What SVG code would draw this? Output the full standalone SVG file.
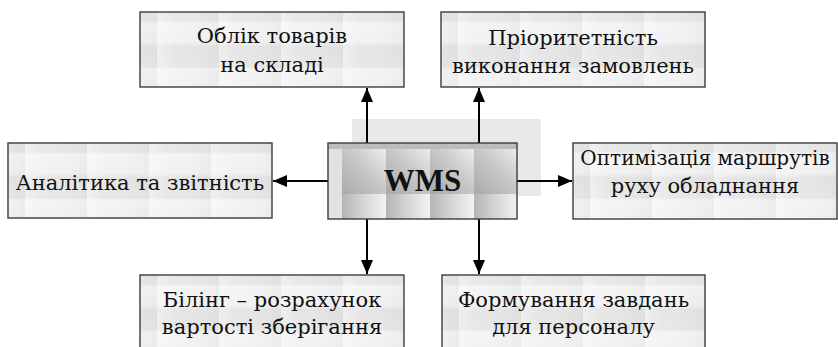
<svg xmlns="http://www.w3.org/2000/svg" width="838" height="347" viewBox="0 0 838 347">
  <style>
    .box { stroke: #3c3c3c; stroke-width: 1.4; fill: url(#tile); }
    .lbl { font-family: "DejaVu Serif", "Liberation Serif", serif; font-size: 21px; fill: #111; text-anchor: middle; }
    .hub { font-family: "Liberation Serif", "DejaVu Serif", serif; font-size: 31px; font-weight: bold; fill: #111; text-anchor: middle; }
    .link { stroke: #000; stroke-width: 2; fill: none; marker-end: url(#head); }
  </style>
  <defs>
    <!-- pale textured fill for the function boxes -->
    <linearGradient id="tileShade" x1="0" y1="0" x2="0" y2="1">
      <stop offset="0" stop-color="#e5e5e5"/>
      <stop offset="0.45" stop-color="#e8e8e8"/>
      <stop offset="0.5" stop-color="#f4f4f4"/>
      <stop offset="0.9" stop-color="#f2f2f2"/>
      <stop offset="1" stop-color="#e9e9e9"/>
    </linearGradient>
    <linearGradient id="tileSide" x1="0" y1="0" x2="1" y2="0">
      <stop offset="0" stop-color="#ffffff" stop-opacity="0.35"/>
      <stop offset="0.3" stop-color="#ffffff" stop-opacity="0"/>
      <stop offset="1" stop-color="#000000" stop-opacity="0.03"/>
    </linearGradient>
    <pattern id="tile" patternUnits="userSpaceOnUse" x="-45" y="-12" width="62" height="46">
      <rect width="62" height="46" fill="url(#tileShade)"/>
      <rect width="62" height="46" fill="url(#tileSide)"/>
    </pattern>
    <!-- darker metallic tiles for the central block -->
    <linearGradient id="metal" x1="0" y1="1" x2="1" y2="0">
      <stop offset="0" stop-color="#a9a9a9"/>
      <stop offset="0.55" stop-color="#c8c8c8"/>
      <stop offset="1" stop-color="#ececec"/>
    </linearGradient>
    <pattern id="metalTile" patternUnits="userSpaceOnUse" x="14" y="6" width="44" height="45">
      <rect width="44" height="45" fill="url(#metal)"/>
    </pattern>
    <linearGradient id="metalBand" x1="0" y1="0" x2="1" y2="0">
      <stop offset="0" stop-color="#b4b4b4"/>
      <stop offset="0.5" stop-color="#d6d6d6"/>
      <stop offset="1" stop-color="#f2f2f2"/>
    </linearGradient>
    <pattern id="metalLow" patternUnits="userSpaceOnUse" x="14" y="51" width="44" height="30">
      <rect width="44" height="30" fill="url(#metalBand)"/>
    </pattern>
    <marker id="head" viewBox="0 0 14 12" refX="14" refY="6" markerWidth="14" markerHeight="12" markerUnits="userSpaceOnUse" orient="auto">
      <path d="M0,0 L14,6 L0,12 Z" fill="#000"/>
    </marker>
  </defs>

  <!-- backdrop panel behind the hub -->
  <rect x="352" y="119" width="189" height="77" fill="#e9e9e9"/>

  <g id="connectors">
    <line class="link" x1="367" y1="143" x2="367" y2="88"/>
    <line class="link" x1="479" y1="143" x2="479" y2="88"/>
    <line class="link" x1="328" y1="181" x2="273" y2="181"/>
    <line class="link" x1="517" y1="181" x2="572" y2="181"/>
    <line class="link" x1="367" y1="219" x2="367" y2="274"/>
    <line class="link" x1="479" y1="219" x2="479" y2="274"/>
  </g>

  <g id="wms" transform="translate(328,143)">
    <rect x="0" y="0" width="189" height="76" fill="#e6e6e6"/>
    <rect x="0" y="6" width="189" height="45" fill="url(#metalTile)"/>
    <rect x="0" y="0" width="189" height="6" fill="#bcbcbc"/>
    <rect x="0" y="51" width="189" height="25" fill="url(#metalLow)"/>
    <rect x="0" y="6" width="14" height="70" fill="#e2e2e2"/>
    <rect x="0" y="0" width="189" height="76" fill="none" stroke="#3c3c3c" stroke-width="1.4"/>
    <text class="hub" x="94.5" y="48">WMS</text>
  </g>

  <g id="stock" transform="translate(140,12)">
    <rect class="box" x="0" y="0" width="264" height="75"/>
    <text class="lbl" x="132" y="31">Облік товарів</text>
    <text class="lbl" x="132" y="60">на складі</text>
  </g>

  <g id="priority" transform="translate(441,12)">
    <rect class="box" x="0" y="0" width="264" height="75"/>
    <text class="lbl" x="132" y="33">Пріоритетність</text>
    <text class="lbl" x="132" y="61">виконання замовлень</text>
  </g>

  <g id="analytics" transform="translate(8,143)">
    <rect class="box" x="0" y="0" width="264" height="75"/>
    <text class="lbl" x="132" y="47">Аналітика та звітність</text>
  </g>

  <g id="routes" transform="translate(573,143)">
    <rect class="box" x="0" y="0" width="264" height="76"/>
    <text class="lbl" x="132" y="22" style="font-size:20px">Оптимізація маршрутів</text>
    <text class="lbl" x="132" y="50">руху обладнання</text>
  </g>

  <g id="billing" transform="translate(140,275)">
    <rect class="box" x="0" y="0" width="264" height="80"/>
    <text class="lbl" x="132" y="32">Білінг – розрахунок</text>
    <text class="lbl" x="132" y="59">вартості зберігання</text>
  </g>

  <g id="tasks" transform="translate(442,275)">
    <rect class="box" x="0" y="0" width="263" height="80"/>
    <text class="lbl" x="131.5" y="32">Формування завдань</text>
    <text class="lbl" x="131.5" y="59">для персоналу</text>
  </g>
</svg>
